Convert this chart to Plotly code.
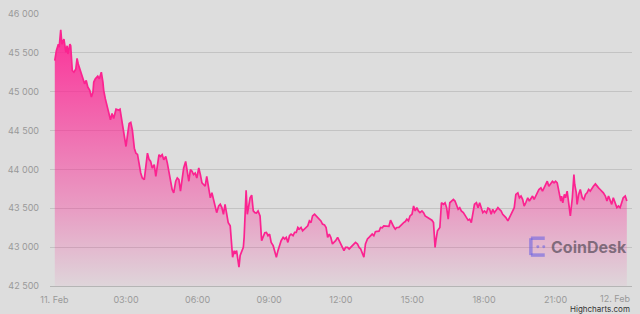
import pandas as pd
import plotly.graph_objects as go

# ---- data: BTC price, 11 Feb (minutes after midnight) ----
min_00_06 = [1, 5, 10, 12, 16, 19, 24, 26, 29, 32, 34, 39, 41, 45, 49, 54, 57, 60, 64, 68,
             72, 76, 80, 84, 89, 93, 97, 99, 103, 109, 113, 118, 122, 124, 128, 133, 137, 141, 145, 149,
             155, 161, 165, 170, 172, 176, 180, 184, 188, 192, 196, 201, 205, 209, 213, 217, 221, 226,
             230, 234, 238, 242, 246, 251, 255, 259, 263, 267, 271, 275, 280, 284, 288, 292, 296, 300,
             305, 309, 313, 317, 321, 325, 330, 334, 338, 342, 346, 350, 354, 358]
px_00_06 = [45400, 45528, 45612, 45570, 45796, 45612, 45676, 45570, 45506, 45592, 45485, 45612, 45592, 45273,
            45251, 45293, 45430, 45357, 45293, 45209, 45145, 45102, 45145, 45060, 45018, 44932, 44996, 45124,
            45166, 45200, 45166, 45251, 45124, 45018, 44911, 44805, 44741, 44639, 44719, 44656, 44775, 44763,
            44775, 44613, 44571, 44448, 44295, 44448, 44592, 44605, 44508, 44273, 44209, 44193, 44061, 43954,
            43890, 43870, 44040, 44209, 44129, 44103, 44018, 44061, 43912, 44082, 44189, 44167, 44189, 44125,
            44167, 44082, 43954, 43870, 43742, 43699, 43848, 43890, 43870, 43721, 43870, 44018, 44103, 43976,
            43848, 43997, 43976, 43934, 43954, 43890]

min_06_12 = [363, 367, 371, 375, 379, 383, 388, 392, 396, 400, 404, 408, 413, 417, 421, 425, 429, 433, 437,
             442, 444, 446, 448, 452, 454, 458, 461, 464, 467, 471, 475, 477, 480, 482, 485, 488, 492, 496,
             500, 504, 508, 512, 517, 521, 525, 529, 533, 537, 541, 545, 550, 554, 558, 562, 566, 570, 575,
             579, 583, 587, 591, 595, 600, 604, 608, 612, 616, 620, 624, 629, 633, 637, 641, 645, 649, 654,
             658, 662, 666, 670, 674, 679, 683, 687, 691, 695, 699, 703, 707, 712, 716]
px_06_12 = [44018, 43934, 43827, 43806, 43784, 43912, 43742, 43635, 43699, 43615, 43551, 43444, 43529, 43551,
            43508, 43423, 43551, 43423, 43316, 43274, 43083, 42955, 42870, 42955, 42913, 42955, 42870, 42742,
            42892, 42934, 42997, 43125, 43466, 43730, 43423, 43508, 43635, 43670, 43466, 43444, 43440, 43466,
            43402, 43083, 43125, 43185, 43189, 43147, 43168, 43061, 43019, 42955, 42870, 42955, 43019, 43083,
            43125, 43105, 43125, 43061, 43147, 43168, 43147, 43189, 43189, 43253, 43232, 43253, 43210, 43232,
            43261, 43274, 43338, 43316, 43402, 43423, 43402, 43380, 43360, 43338, 43296, 43287, 43253, 43125,
            43168, 43125, 43041, 43061, 43083, 43125, 43083]

min_12_18 = [720, 724, 728, 732, 737, 741, 745, 749, 753, 757, 762, 766, 770, 774, 778, 782, 787, 791, 795,
             799, 803, 807, 811, 816, 820, 824, 828, 832, 836, 841, 845, 849, 853, 857, 861, 866, 869, 874,
             878, 882, 886, 890, 894, 899, 903, 907, 911, 915, 919, 924, 928, 932, 936, 940, 944, 949, 953,
             957, 959, 963, 969, 973, 978, 982, 986, 990, 994, 998, 1003, 1007, 1011, 1015, 1019, 1023, 1028,
             1032, 1036, 1040, 1044, 1048, 1052, 1056, 1061, 1065, 1069, 1073, 1077]
px_12_18 = [43041, 43019, 42955, 42997, 42997, 42977, 42997, 43019, 43041, 43061, 43041, 42997, 42977, 42913,
            42870, 43041, 43105, 43125, 43147, 43168, 43147, 43198, 43202, 43204, 43253, 43249, 43274, 43274,
            43274, 43268, 43347, 43300, 43261, 43232, 43253, 43255, 43274, 43296, 43316, 43329, 43360, 43338,
            43402, 43423, 43529, 43466, 43508, 43466, 43444, 43466, 43444, 43402, 43389, 43380, 43360, 43347,
            43316, 42997, 43083, 43210, 43253, 43571, 43551, 43571, 43508, 43360, 43571, 43593, 43615, 43593,
            43551, 43487, 43508, 43466, 43444, 43402, 43380, 43347, 43360, 43316, 43466, 43551, 43571, 43508,
            43571, 43508, 43444]

min_18_24 = [1081, 1086, 1090, 1094, 1098, 1102, 1106, 1111, 1115, 1119, 1123, 1127, 1131, 1135, 1140, 1144,
             1148, 1152, 1156, 1160, 1165, 1169, 1173, 1177, 1181, 1185, 1190, 1194, 1198, 1202, 1206, 1210,
             1214, 1218, 1223, 1227, 1231, 1235, 1239, 1243, 1248, 1252, 1256, 1260, 1264, 1268, 1273, 1275,
             1278, 1282, 1285, 1289, 1293, 1297, 1302, 1304, 1306, 1308, 1312, 1314, 1318, 1322, 1327, 1331,
             1335, 1339, 1343, 1347, 1351, 1355, 1360, 1364, 1368, 1372, 1376, 1380, 1385, 1389, 1393, 1397,
             1401, 1405, 1410, 1414, 1418, 1422, 1426, 1430, 1435, 1439]
px_18_24 = [43466, 43440, 43504, 43491, 43423, 43487, 43444, 43487, 43508, 43487, 43466, 43423, 43402, 43380,
            43338, 43380, 43423, 43466, 43508, 43679, 43699, 43635, 43657, 43615, 43529, 43571, 43635, 43593,
            43635, 43657, 43615, 43657, 43679, 43742, 43763, 43721, 43763, 43806, 43848, 43784, 43827, 43848,
            43827, 43848, 43827, 43699, 43593, 43657, 43571, 43679, 43635, 43721, 43551, 43402, 43635, 43848,
            43934, 43806, 43699, 43551, 43679, 43742, 43635, 43615, 43679, 43699, 43742, 43721, 43763, 43784,
            43814, 43784, 43763, 43742, 43721, 43699, 43657, 43593, 43657, 43615, 43551, 43635, 43571, 43508,
            43529, 43508, 43571, 43635, 43657, 43593]

day_start = "2022-02-11 00:00"
x_tick_hours = [0, 3, 6, 9, 12, 15, 18, 21]
x_tick_text = ["11. Feb", "03:00", "06:00", "09:00", "12:00", "15:00", "18:00", "21:00"]
end_label = "12. Feb"
y_ticks = [42500, 43000, 43500, 44000, 44500, 45000, 45500, 46000]

minutes = min_00_06 + min_06_12 + min_12_18 + min_18_24
prices = px_00_06 + px_06_12 + px_12_18 + px_18_24
t0 = pd.Timestamp(day_start)
times = t0 + pd.to_timedelta(minutes, unit="m")

BG = "#dddddd"
PINK = "#fb2390"
LABEL = "#999999"
FONT = "Inter"

fig = go.Figure()
fig.add_trace(go.Scatter(
    x=times, y=prices, mode="lines",
    line=dict(color=PINK, width=1.7),
    fill="tozeroy",
    fillgradient=dict(
        type="vertical", start=42500, stop=45800,
        colorscale=[[0, "rgba(255,30,145,0.03)"], [0.3, "rgba(255,30,145,0.33)"],
                    [1, "rgba(255,30,145,0.9)"]],
    ),
    hoverinfo="skip", showlegend=False,
))

tickvals = [t0 + pd.Timedelta(hours=h) for h in x_tick_hours]

fig.update_layout(
    width=640, height=314,
    margin=dict(l=45, r=8, t=11, b=28),
    paper_bgcolor=BG, plot_bgcolor=BG,
    separators=". ",
    font=dict(family=FONT, size=9, color=LABEL),
    xaxis=dict(
        range=[t0 - pd.Timedelta(minutes=11), t0 + pd.Timedelta(minutes=1452)],
        tickvals=tickvals, ticktext=x_tick_text,
        showgrid=False, zeroline=False,
        showline=True, linecolor="#b5b5b5", linewidth=1,
        ticks="", ticklabelstandoff=5,
        tickfont=dict(family=FONT, size=9, color=LABEL),
    ),
    yaxis=dict(
        range=[42500, 46000], tickvals=y_ticks, tickformat=",d",
        showgrid=True, gridcolor="#c3c3c3", gridwidth=1,
        zeroline=False, showline=False, ticks="", ticklabelstandoff=10,
        tickfont=dict(family=FONT, size=9, color=LABEL),
    ),
    annotations=[
        dict(x=t0 + pd.Timedelta(hours=24), y=0, xref="x", yref="paper",
             text=end_label, showarrow=False, xanchor="right", yanchor="top",
             xshift=5, yshift=-5, font=dict(family=FONT, size=9, color=LABEL)),
        dict(x=1, y=0, xref="paper", yref="paper", text="Highcharts.com",
             showarrow=False, xanchor="right", yanchor="top", yshift=-16,
             font=dict(family=FONT, size=8, color="#333333")),
        dict(x=(548 - 45) / 587, y=(285.7 - 246) / 274.4, xref="paper", yref="paper",
             text="<b>CoinDesk</b>", showarrow=False, xanchor="left", yanchor="middle",
             font=dict(family=FONT, size=16, color="rgba(90,78,92,0.72)")),
    ],
)

# CoinDesk logo mark (approximate)
def px(xp):
    return (xp - 45) / 587

def py(yp):
    return (285.7 - yp) / 274.4

logo = "rgba(110,100,225,0.6)"
for (x0, y0, x1, y1) in [(530, 237.5, 530, 254.5), (530, 237.5, 544, 237.5), (530, 254.5, 544, 254.5)]:
    fig.add_shape(type="line", xref="paper", yref="paper",
                  x0=px(x0), y0=py(y0), x1=px(x1), y1=py(y1),
                  line=dict(color=logo, width=3.5))
for cx in [537, 543]:
    fig.add_shape(type="circle", xref="paper", yref="paper",
                  x0=px(cx - 1.5), x1=px(cx + 1.5), y0=py(247.5), y1=py(244.5),
                  line=dict(width=0), fillcolor=logo)

fig.write_html("out.html")
